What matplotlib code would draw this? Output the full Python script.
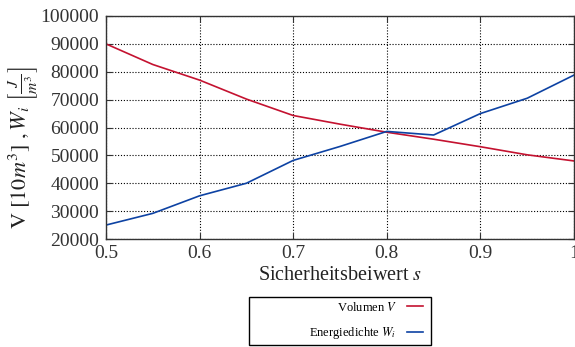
import matplotlib
matplotlib.use("Agg")
import matplotlib.pyplot as plt
from matplotlib.patches import Rectangle

plt.rcParams['font.family'] = ['Liberation Serif', 'DejaVu Serif']
plt.rcParams['mathtext.fontset'] = 'stix'

s = [0.5, 0.55, 0.6, 0.65, 0.7, 0.75, 0.8, 0.85, 0.9, 0.95, 1.0]
volumen = [90000, 82600, 77000, 70200, 64300, 61200, 58300, 55800, 53100, 50200, 48000]
energie = [25000, 29200, 35500, 40000, 48200, 53200, 58600, 57300, 65000, 70500, 78800]

xticks = [0.5, 0.6, 0.7, 0.8, 0.9, 1.0]
xticklabels = ["0.5", "0.6", "0.7", "0.8", "0.9", "1"]
yticks = [20000, 30000, 40000, 50000, 60000, 70000, 80000, 90000, 100000]

W, H = 575, 347
fig = plt.figure(figsize=(W / 100, H / 100), dpi=100)
ax = fig.add_axes([106/W, 1 - 239/H, (574-106)/W, (239-16)/H])

red = '#c41230'
blue = '#0d42a3'
ax.plot(s, volumen, color=red, lw=1.2, label=r'Volumen $V$')
ax.plot(s, energie, color=blue, lw=1.2, label=r'Energiedichte $W_i$')

ax.set_xlim(0.5, 1.0)
ax.set_ylim(20000, 100000)
ax.set_xticks(xticks)
ax.set_xticklabels(xticklabels)
ax.set_yticks(yticks)
ax.set_yticklabels([str(v) for v in yticks])
ax.grid(True, color='black', linestyle=(0, (1, 1.6)), lw=0.8)
ax.tick_params(direction='in', length=4, labelsize=14, colors='#333333',
               top=True, right=True, pad=5)
ax.tick_params(axis='x', pad=4)
for sp in ax.spines.values():
    sp.set_color('#333333')
    sp.set_linewidth(1.0)

ax.set_xlabel(r'Sicherheitsbeiwert $s$', fontsize=14.5, color='#222222', labelpad=3)
ax.set_ylabel(r'$\mathrm{V}\ [10m^3]\ ,W_i\ \left[\frac{J}{m^3}\right]$', fontsize=16,
              color='#222222')
ax.yaxis.set_label_coords(-0.142, 0.41)

# legend entries (text left of the line sample), boxed by a separate frame
leg = fig.legend(loc='center right', bbox_to_anchor=(423/W, 1 - 321/H),
                 markerfirst=False, fontsize=9, frameon=False,
                 handlelength=1.3, borderpad=0, borderaxespad=0,
                 labelspacing=0.95, handletextpad=0.8)
fig.add_artist(Rectangle((249/W, 1 - 345/H), 182/W, 48/H, transform=fig.transFigure,
                         fill=False, edgecolor='black', lw=1.0))

fig.savefig('out.png', dpi=100)
